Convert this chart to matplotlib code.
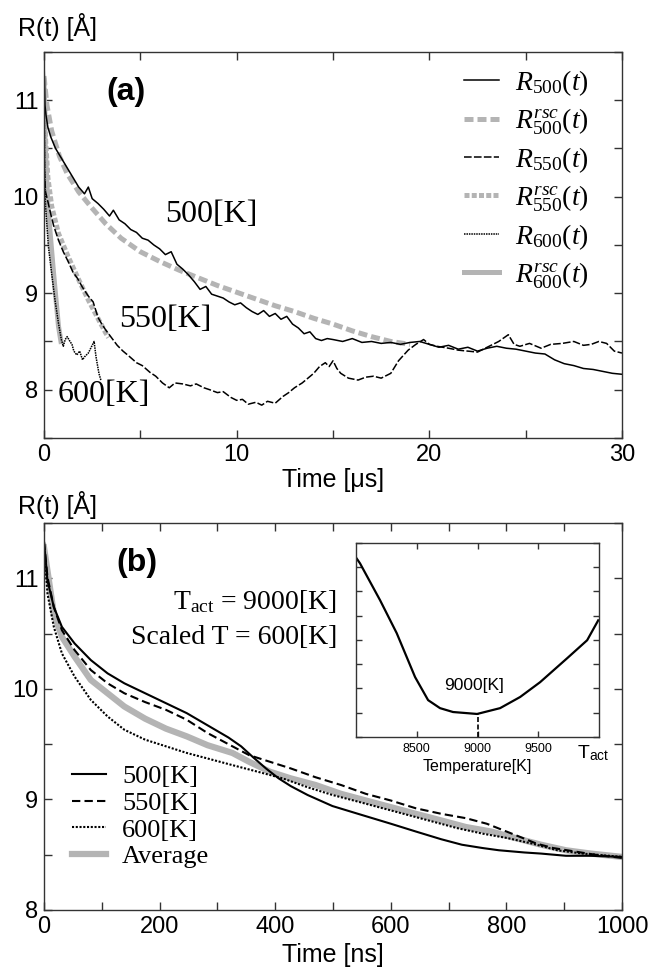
import numpy as np
import matplotlib.pyplot as plt
from matplotlib.ticker import MultipleLocator

plt.rcParams['font.family'] = ['Liberation Sans', 'DejaVu Sans']
plt.rcParams['mathtext.fontset'] = 'custom'
plt.rcParams['mathtext.rm'] = 'Liberation Serif'
plt.rcParams['mathtext.it'] = 'Liberation Serif:italic'
plt.rcParams['mathtext.sf'] = 'Liberation Sans'

GRAY = '#b4b4b4'
SERIF = ['Liberation Serif', 'DejaVu Serif']

# ==== (a) 数据: (t [us], R [A]) ====
r500 = [(0, 11.42), (0.05, 10.95), (0.1, 10.85), (0.2, 10.72), (0.35, 10.62), (0.6, 10.50),
        (0.9, 10.40), (1.2, 10.30), (1.5, 10.20), (1.8, 10.10), (2.1, 10.03), (2.3, 10.10),
        (2.5, 9.98), (2.8, 9.93), (3.1, 9.87), (3.4, 9.80), (3.6, 9.86), (3.9, 9.76),
        (4.2, 9.72), (4.5, 9.66), (4.8, 9.63), (5.1, 9.57), (5.4, 9.55), (5.7, 9.50),
        (6.0, 9.46), (6.3, 9.40), (6.6, 9.43), (6.9, 9.30), (7.2, 9.25), (7.5, 9.19),
        (7.8, 9.12), (8.1, 9.04), (8.4, 9.07), (8.7, 8.99), (9.0, 8.97), (9.3, 8.95),
        (9.6, 8.91), (9.9, 8.88), (10.2, 8.90), (10.5, 8.85), (10.8, 8.81), (11.1, 8.78),
        (11.4, 8.82), (11.7, 8.76), (12.0, 8.79), (12.3, 8.73), (12.6, 8.76), (12.9, 8.68),
        (13.2, 8.64), (13.5, 8.58), (13.8, 8.60), (14.1, 8.53), (14.4, 8.51), (14.7, 8.53),
        (15.0, 8.52), (15.5, 8.50), (16.0, 8.53), (16.5, 8.49), (17.0, 8.50), (17.5, 8.48),
        (18.0, 8.49), (18.5, 8.47), (19.0, 8.49), (19.5, 8.50), (20.0, 8.47), (20.5, 8.44),
        (21.0, 8.46), (21.5, 8.42), (22.0, 8.44), (22.5, 8.40), (23.0, 8.43), (23.5, 8.45),
        (24.0, 8.43), (24.5, 8.42), (25.0, 8.40), (25.5, 8.38), (26.0, 8.37), (26.5, 8.31),
        (27.0, 8.27), (27.5, 8.25), (28.0, 8.22), (28.5, 8.21), (29.0, 8.19), (29.5, 8.17),
        (30.0, 8.16)]
r500_rsc = [(0, 11.25), (0.15, 10.95), (0.4, 10.68), (0.8, 10.42), (1.2, 10.24), (1.8, 10.05),
            (2.5, 9.88), (3.2, 9.72), (4.0, 9.57), (5.0, 9.43), (6.0, 9.33), (7.0, 9.24),
            (8.0, 9.16), (9.0, 9.08), (10.0, 9.01), (11.0, 8.94), (12.0, 8.87), (13.0, 8.81),
            (14.0, 8.74), (15.0, 8.68), (16.0, 8.61), (17.0, 8.55), (18.0, 8.50), (19.0, 8.47)]
r550 = [(0, 11.3), (0.03, 10.25), (0.08, 10.05), (0.2, 9.95), (0.35, 9.82), (0.5, 9.70),
        (0.75, 9.55), (1.0, 9.43), (1.25, 9.33), (1.5, 9.22), (1.75, 9.15), (2.0, 9.06),
        (2.3, 8.97), (2.55, 8.91), (2.8, 8.75), (3.0, 8.68), (3.2, 8.62), (3.5, 8.54),
        (3.8, 8.46), (4.1, 8.40), (4.4, 8.35), (4.8, 8.28), (5.1, 8.25), (5.5, 8.18),
        (5.8, 8.14), (6.15, 8.07), (6.5, 8.02), (6.8, 8.07), (7.2, 8.06), (7.6, 8.04),
        (7.9, 8.06), (8.3, 8.02), (8.6, 8.00), (9.0, 7.97), (9.3, 7.98), (9.7, 7.92),
        (10.0, 7.89), (10.3, 7.90), (10.6, 7.85), (11.0, 7.87), (11.3, 7.84), (11.6, 7.88),
        (12.0, 7.86), (12.4, 7.93), (12.7, 7.97), (13.0, 8.02), (13.4, 8.07), (13.7, 8.12),
        (14.0, 8.17), (14.3, 8.24), (14.6, 8.28), (14.8, 8.24), (15.0, 8.30), (15.2, 8.22),
        (15.4, 8.17), (15.8, 8.12), (16.3, 8.10), (16.7, 8.13), (17.1, 8.14), (17.5, 8.12),
        (18.0, 8.17), (18.4, 8.30), (18.9, 8.41), (19.3, 8.47), (19.7, 8.52), (20.0, 8.47),
        (20.4, 8.45), (21.0, 8.43), (21.5, 8.41), (22.0, 8.40), (22.5, 8.39), (23.0, 8.44),
        (23.6, 8.50), (24.1, 8.57), (24.4, 8.47), (24.7, 8.45), (25.2, 8.48), (25.8, 8.43),
        (26.3, 8.47), (26.9, 8.48), (27.5, 8.50), (28.0, 8.46), (28.4, 8.47), (28.8, 8.50),
        (29.2, 8.48), (29.6, 8.40), (30.0, 8.38)]
r550_rsc = [(0, 11.2), (0.08, 10.6), (0.2, 10.2), (0.4, 9.9), (0.75, 9.62), (1.25, 9.38),
            (1.8, 9.14), (2.3, 8.93), (2.85, 8.72), (3.2, 8.59), (3.35, 8.54)]
r600 = [(0, 11.3), (0.03, 10.3), (0.08, 9.9), (0.23, 9.48), (0.4, 9.2), (0.57, 8.93),
        (0.75, 8.69), (0.9, 8.52), (1.0, 8.45), (1.1, 8.52), (1.2, 8.55), (1.35, 8.50),
        (1.45, 8.47), (1.55, 8.40), (1.7, 8.36), (1.85, 8.40), (2.0, 8.31), (2.1, 8.34),
        (2.3, 8.38), (2.45, 8.44), (2.6, 8.50), (2.7, 8.34), (2.85, 8.17), (2.95, 8.10)]
r600_rsc = [(0, 11.2), (0.05, 10.6), (0.2, 9.9), (0.5, 9.2), (0.75, 8.66), (0.88, 8.5)]

# ==== (b) 数据: (t [ns], R [A]) ====
b500 = [(0, 11.33), (6, 10.98), (17, 10.74), (31, 10.56), (53, 10.41), (81, 10.26),
        (110, 10.14), (139, 10.05), (175, 9.96), (211, 9.87), (247, 9.78), (283, 9.67),
        (319, 9.56), (341, 9.48), (362, 9.38), (384, 9.28), (406, 9.19), (427, 9.12),
        (456, 9.04), (499, 8.94), (543, 8.87), (600, 8.78), (643, 8.71), (687, 8.64),
        (723, 8.59), (759, 8.56), (787, 8.54), (831, 8.52), (860, 8.51), (903, 8.49),
        (946, 8.49), (1000, 8.48)]
b550 = [(0, 11.33), (6, 11.01), (17, 10.74), (31, 10.53), (53, 10.35), (81, 10.17),
        (110, 10.05), (139, 9.96), (175, 9.88), (211, 9.81), (247, 9.72), (283, 9.60),
        (326, 9.48), (355, 9.40), (391, 9.34), (427, 9.28), (470, 9.20), (514, 9.13),
        (557, 9.05), (600, 8.99), (643, 8.92), (687, 8.87), (730, 8.83), (766, 8.78),
        (795, 8.72), (824, 8.66), (852, 8.60), (881, 8.56), (917, 8.53), (953, 8.50),
        (1000, 8.47)]
b600 = [(0, 11.28), (6, 10.86), (17, 10.56), (31, 10.32), (53, 10.11), (81, 9.90),
        (110, 9.75), (139, 9.63), (175, 9.54), (211, 9.48), (247, 9.42), (283, 9.37),
        (326, 9.31), (370, 9.25), (413, 9.19), (456, 9.11), (499, 9.04), (543, 8.98),
        (586, 8.92), (629, 8.86), (672, 8.80), (715, 8.74), (759, 8.69), (802, 8.65),
        (845, 8.60), (888, 8.54), (932, 8.51), (1000, 8.48)]
b_avg = [(0, 11.28), (17, 10.68), (31, 10.47), (53, 10.29), (81, 10.08), (110, 9.96),
         (139, 9.84), (175, 9.73), (211, 9.64), (247, 9.57), (283, 9.49), (326, 9.42),
         (355, 9.34), (391, 9.25), (427, 9.19), (470, 9.13), (514, 9.05), (557, 8.99),
         (600, 8.93), (643, 8.87), (687, 8.81), (730, 8.75), (773, 8.71), (816, 8.65),
         (860, 8.59), (903, 8.54), (946, 8.51), (1000, 8.48)]

# ==== 插图数据: (T_act [K], 偏差) ====
inset_curve = [(8000, 7.40), (8033, 7.16), (8198, 5.64), (8335, 4.28), (8486, 2.47),
               (8593, 1.52), (8691, 1.19), (8798, 1.03), (8996, 0.95), (9185, 1.19),
               (9350, 1.65), (9514, 2.26), (9737, 3.25), (9901, 3.99), (9992, 4.81)]
t_best = 9000

top_labels = [r'$R_{\mathit{500}}(t)$', r'$R^{\mathit{rsc}}_{\mathit{500}}(t)$',
              r'$R_{\mathit{550}}(t)$', r'$R^{\mathit{rsc}}_{\mathit{550}}(t)$',
              r'$R_{\mathit{600}}(t)$', r'$R^{\mathit{rsc}}_{\mathit{600}}(t)$']
bot_labels = ['500[K]', '550[K]', '600[K]', 'Average']


def xy(d):
    a = np.array(d, dtype=float)
    return a[:, 0], a[:, 1]


def style_axes(ax, lab=17, length=6):
    for s in ax.spines.values():
        s.set_linewidth(1.0)
        s.set_color('#333333')
    ax.tick_params(which='both', direction='in', top=True, right=True,
                   length=length, width=1.0, color='#333333', labelsize=lab, pad=4)


fig = plt.figure(figsize=(6.52, 9.75), dpi=100)

# ==== (a) ====
ax1 = fig.add_axes([0.0675, 0.5508, 0.8865, 0.3959])
l1, = ax1.plot(*xy(r500_rsc), color=GRAY, lw=3.6, ls=(0, (1.8, 0.8)))
l2, = ax1.plot(*xy(r550_rsc), color=GRAY, lw=3.6, ls=(0, (1.0, 0.45)))
l3, = ax1.plot(*xy(r600_rsc), color=GRAY, lw=3.6)
h500, = ax1.plot(*xy(r500), color='black', lw=1.1)
h550, = ax1.plot(*xy(r550), color='black', lw=1.1, ls=(0, (5, 1.5)))
h600, = ax1.plot(*xy(r600), color='black', lw=1.1, ls=(0, (1, 0.6)))
ax1.set_xlim(0, 30)
ax1.set_ylim(7.5, 11.5)
ax1.xaxis.set_major_locator(MultipleLocator(10))
ax1.xaxis.set_minor_locator(MultipleLocator(5))
ax1.yaxis.set_major_locator(MultipleLocator(1))
ax1.yaxis.set_minor_locator(MultipleLocator(0.5))
style_axes(ax1)
ax1.set_xlabel('Time [μs]', fontsize=18, labelpad=2)
ax1.text(4.26, 11.09, '(a)', fontsize=23, fontweight='bold', ha='center', va='center')
ax1.text(8.67, 9.82, '500[K]', fontsize=23, family=SERIF, ha='center', va='center')
ax1.text(6.28, 8.73, '550[K]', fontsize=23, family=SERIF, ha='center', va='center')
ax1.text(3.11, 7.95, '600[K]', fontsize=23, family=SERIF, ha='center', va='center')
ax1.legend([h500, l1, h550, l2, h600, l3], top_labels, loc='upper left',
           bbox_to_anchor=(0.727, 0.958), frameon=False, fontsize=20,
           handlelength=1.26, handletextpad=0.58, labelspacing=0.3,
           borderpad=0, borderaxespad=0)

# ==== (b) ====
ax2 = fig.add_axes([0.0675, 0.0667, 0.8865, 0.3969])
ga, = ax2.plot(*xy(b_avg), color=GRAY, lw=4.5)
g5, = ax2.plot(*xy(b500), color='black', lw=1.5)
g55, = ax2.plot(*xy(b550), color='black', lw=1.5, ls=(0, (4, 2)))
g6, = ax2.plot(*xy(b600), color='black', lw=1.5, ls=(0, (1, 0.8)))
ax2.set_xlim(0, 1000)
ax2.set_ylim(8, 11.5)
ax2.xaxis.set_major_locator(MultipleLocator(200))
ax2.xaxis.set_minor_locator(MultipleLocator(100))
ax2.yaxis.set_major_locator(MultipleLocator(1))
ax2.yaxis.set_minor_locator(MultipleLocator(0.5))
style_axes(ax2)
ax2.set_xlabel('Time [ns]', fontsize=18, labelpad=4)
ax2.text(161, 11.14, '(b)', fontsize=23, fontweight='bold', ha='center', va='center')
ax2.text(507, 10.79, r'T$_{\mathrm{act}}$ = 9000[K]', fontsize=20, family=SERIF,
         ha='right', va='center')
ax2.text(507, 10.46, 'Scaled T = 600[K]', fontsize=20, family=SERIF,
         ha='right', va='center')
ax2.legend([g5, g55, g6, ga], bot_labels, loc='upper left',
           bbox_to_anchor=(0.048, 0.375), frameon=False,
           prop={'family': SERIF, 'size': 19},
           handlelength=1.3, handletextpad=0.6, labelspacing=0.12,
           borderpad=0, borderaxespad=0)

# ==== 插图 ====
axin = fig.add_axes([0.546, 0.2441, 0.373, 0.199])
ax_t, ax_v = xy(inset_curve)
axin.plot(ax_t, ax_v, color='black', lw=1.6)
v_best = np.interp(t_best, ax_t, ax_v)
axin.plot([t_best, t_best], [0, v_best], color='black', lw=1.2, ls=(0, (3, 1.5)))
axin.set_xlim(8000, 10000)
axin.set_ylim(0, 8)
axin.set_xticks([8500, 9000, 9500])
axin.yaxis.set_major_locator(MultipleLocator(1))
style_axes(axin, lab=9, length=4)
axin.tick_params(axis='y', labelleft=False)
axin.set_xlabel('Temperature[K]', fontsize=11.5, labelpad=3)
axin.text(8970, 2.14, '9000[K]', fontsize=12.5, ha='center', va='center')
axin.text(0.975, -0.085, r'T$_{\mathsf{act}}$', transform=axin.transAxes,
          fontsize=14, ha='center', va='center')

fig.text(18 / 652, 1 - 36 / 975, 'R(t) [Å]', fontsize=18, ha='left', va='baseline')
fig.text(18 / 652, 1 - 514 / 975, 'R(t) [Å]', fontsize=18, ha='left', va='baseline')

fig.savefig('out.png', dpi=100)
